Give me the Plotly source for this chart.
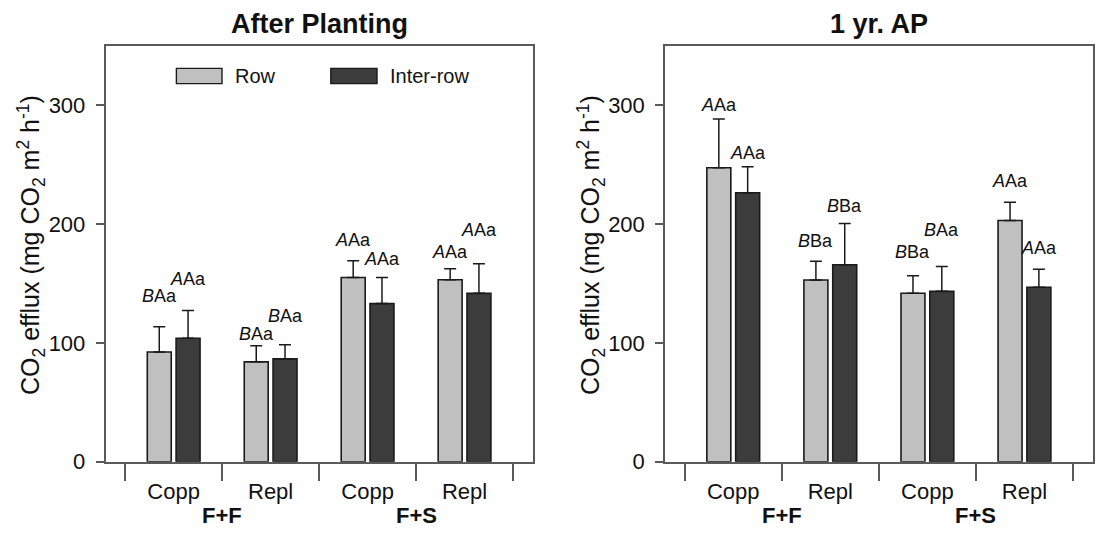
import plotly.graph_objects as go

# ---- data -----------------------------------------------------------
categories = ["Copp", "Repl", "Copp", "Repl"]
groups = ["F+F", "F+S"]
panel_titles = ["After Planting", "1 yr. AP"]
series_names = ["Row", "Inter-row"]

# After Planting
ap_row = [92.3, 84.0, 155.0, 153.0]
ap_row_err = [21.3, 13.5, 14.0, 9.4]
ap_inter = [103.8, 86.5, 133.0, 141.6]
ap_inter_err = [23.3, 11.8, 22.0, 24.9]
ap_row_letters = ["<i>B</i>Aa", "<i>B</i>Aa", "<i>A</i>Aa", "<i>A</i>Aa"]
ap_inter_letters = ["<i>A</i>Aa", "<i>B</i>Aa", "<i>A</i>Aa", "<i>A</i>Aa"]
ap_row_letter_y = [139.5, 107.7, 186.5, 176.6]
ap_inter_letter_y = [153.7, 122.8, 170.6, 194.7]

# 1 yr. AP
yr_row = [247.2, 152.8, 141.7, 202.9]
yr_row_err = [41.0, 15.9, 14.7, 15.3]
yr_inter = [226.2, 165.7, 143.3, 146.8]
yr_inter_err = [21.8, 34.7, 21.0, 15.1]
yr_row_letters = ["<i>A</i>Aa", "<i>B</i>Ba", "<i>B</i>Ba", "<i>A</i>Aa"]
yr_inter_letters = ["<i>A</i>Aa", "<i>B</i>Ba", "<i>B</i>Aa", "<i>A</i>Aa"]
yr_row_letter_y = [300.0, 185.6, 176.6, 236.3]
yr_inter_letter_y = [259.5, 215.2, 194.7, 179.7]

y_ticks = [0, 100, 200, 300]

# ---- styling --------------------------------------------------------
W, H = 1097, 545
FONT = "Liberation Sans, Arial, sans-serif"
ROW_COLOR = "#c0c0c0"
INTER_COLOR = "#3c3c3c"
EDGE = "#1a1a1a"
AXIS = "#5a5a5a"
TEXT = "#111111"
BAR_W = 0.247
GAP = 0.05


def px(x):
    return x / W


def py(y):
    return 1 - y / H


x_domains = [[px(105.5), px(533)], [px(665), px(1093)]]
y_domain = [py(473), py(46.7)]
x_range = [-0.703, 3.706]
y_range = [0, 350]

fig = go.Figure()

panels = [
    (ap_row, ap_row_err, ap_inter, ap_inter_err,
     ap_row_letters, ap_inter_letters, ap_row_letter_y, ap_inter_letter_y),
    (yr_row, yr_row_err, yr_inter, yr_inter_err,
     yr_row_letters, yr_inter_letters, yr_row_letter_y, yr_inter_letter_y),
]

xpos = list(range(len(categories)))
annotations = []

for p, (row, row_err, inter, inter_err, rl, il, rly, ily) in enumerate(panels):
    xa = "x" if p == 0 else "x2"
    ya = "y" if p == 0 else "y2"
    for vals, errs, color, offset, name in [
        (row, row_err, ROW_COLOR, -BAR_W - GAP / 2, series_names[0]),
        (inter, inter_err, INTER_COLOR, GAP / 2, series_names[1]),
    ]:
        fig.add_trace(go.Bar(
            x=xpos, y=vals, width=BAR_W, offset=offset,
            marker=dict(color=color, line=dict(color=EDGE, width=1.6)),
            error_y=dict(type="data", symmetric=False, array=errs,
                         arrayminus=[0] * len(errs), color="#1a1a1a",
                         thickness=1.5, width=6),
            name=name, showlegend=False, xaxis=xa, yaxis=ya,
        ))
    # significance letters above each bar
    for i in xpos:
        for txt, yv, dx in [(rl[i], rly[i], -BAR_W / 2 - GAP / 2),
                            (il[i], ily[i], BAR_W / 2 + GAP / 2)]:
            annotations.append(dict(
                x=i + dx, y=yv, xref=xa, yref=ya, text=txt, showarrow=False,
                font=dict(family=FONT, size=18, color=TEXT),
                xanchor="center", yanchor="middle"))
    # group labels under the categories
    for g, gname in enumerate(groups):
        annotations.append(dict(
            x=2 * g + 0.5, y=py(528), xref=xa, yref="paper",
            text=f"<b>{gname}</b>", showarrow=False,
            font=dict(family=FONT, size=22, color=TEXT),
            xanchor="center", yanchor="middle"))
    # panel title
    annotations.append(dict(
        x=sum(x_domains[p]) / 2, y=py(25), xref="paper", yref="paper",
        text=f"<b>{panel_titles[p]}</b>", showarrow=False,
        font=dict(family=FONT, size=27, color=TEXT),
        xanchor="center", yanchor="middle"))
    # y-axis title
    annotations.append(dict(
        x=px(31 + (0 if p == 0 else 560)), y=py(251), xref="paper", yref="paper",
        text="CO<sub>2</sub> efflux (mg CO<sub>2</sub> m<sup>2</sup> h<sup>-1</sup>)",
        textangle=-90, showarrow=False,
        font=dict(family=FONT, size=25, color=TEXT),
        xanchor="center", yanchor="middle"))

# legend drawn inside the first panel
shapes = []
legend_items = [(176.4, 222.0, ROW_COLOR, 233.0, series_names[0]),
                (330.8, 377.0, INTER_COLOR, 387.6, series_names[1])]
for x0, x1, color, tx, label in legend_items:
    shapes.append(dict(type="rect", xref="paper", yref="paper",
                       x0=px(x0), x1=px(x1), y0=py(85.7), y1=py(70.0),
                       fillcolor=color, line=dict(color=EDGE, width=1.4)))
    annotations.append(dict(
        x=px(tx), y=py(78), xref="paper", yref="paper", text=label,
        showarrow=False, font=dict(family=FONT, size=20, color=TEXT),
        xanchor="left", yanchor="middle"))

axis_common = dict(showgrid=False, zeroline=False, showline=True,
                   linecolor=AXIS, linewidth=1.5, mirror=True)

xaxis_style = dict(
    axis_common, range=x_range, tickmode="array", tickvals=xpos,
    ticktext=categories, ticks="", ticklabelstandoff=9,
    tickfont=dict(family=FONT, size=22, color=TEXT),
    minor=dict(tickmode="array", tickvals=[-0.5, 0.5, 1.5, 2.5, 3.5],
               ticks="outside", ticklen=18, tickcolor=AXIS, tickwidth=1.5),
)
yaxis_style = dict(
    axis_common, range=y_range, tickmode="array", tickvals=y_ticks,
    ticks="outside", ticklen=8, tickcolor=AXIS, tickwidth=1.5,
    ticklabelstandoff=6,
    tickfont=dict(family=FONT, size=22, color=TEXT),
)

fig.update_layout(
    width=W, height=H, margin=dict(l=0, r=0, t=0, b=0),
    paper_bgcolor="white", plot_bgcolor="white",
    xaxis=dict(xaxis_style, domain=x_domains[0], anchor="y"),
    yaxis=dict(yaxis_style, domain=y_domain, anchor="x"),
    xaxis2=dict(xaxis_style, domain=x_domains[1], anchor="y2"),
    yaxis2=dict(yaxis_style, domain=y_domain, anchor="x2"),
    annotations=annotations, shapes=shapes, showlegend=False,
)

fig.write_html("out.html")
